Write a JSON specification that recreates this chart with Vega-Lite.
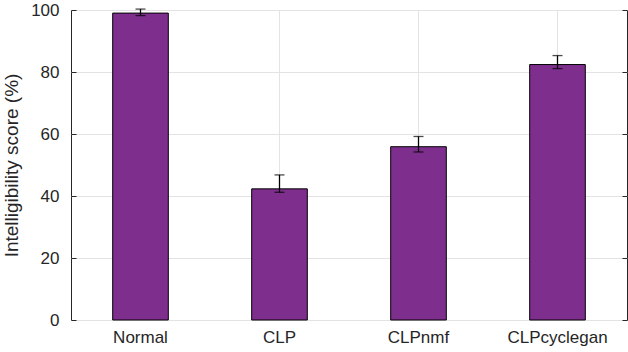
{
  "$schema": "https://vega.github.io/schema/vega-lite/v6.json",
  "width": 556,
  "height": 310,
  "autosize": "none",
  "padding": {"left": 71, "top": 10, "right": 1, "bottom": 32},
  "background": "white",
  "config": {
    "font": "Liberation Sans",
    "view": {"stroke": "#262626", "strokeWidth": 1},
    "axis": {
      "domainColor": "#262626",
      "tickColor": "#262626",
      "labelColor": "#262626",
      "titleColor": "#262626",
      "labelFont": "Liberation Sans",
      "titleFont": "Liberation Sans",
      "labelFontSize": 17,
      "titleFontSize": 19,
      "titleFontWeight": "normal",
      "gridColor": "#e3e3e3",
      "gridOpacity": 1
    }
  },
  "data": {
    "values": [
      {"cond": "Normal", "score": 99.0, "lo": 98.2, "hi": 100.3},
      {"cond": "CLP", "score": 42.3, "lo": 41.2, "hi": 46.8},
      {"cond": "CLPnmf", "score": 55.9, "lo": 54.2, "hi": 59.2},
      {"cond": "CLPcyclegan", "score": 82.4, "lo": 81.1, "hi": 85.3}
    ]
  },
  "encoding": {
    "x": {
      "field": "cond",
      "type": "nominal",
      "sort": null,
      "scale": {"paddingInner": 0.6, "paddingOuter": 0.3},
      "axis": {
        "title": null,
        "labelAngle": 0,
        "grid": true,
        "ticks": false,
        "domain": false,
        "labelPadding": 9
      }
    }
  },
  "layer": [
    {
      "mark": {"type": "bar", "fill": "#7E2F8E", "stroke": "#000000", "strokeWidth": 1},
      "encoding": {
        "y": {
          "field": "score",
          "type": "quantitative",
          "scale": {"domain": [0, 100], "nice": false},
          "axis": {
            "title": "Intelligibility score (%)",
            "values": [0, 20, 40, 60, 80, 100],
            "tickSize": -5,
            "labelPadding": 17,
            "titlePadding": 9,
            "grid": true,
            "domain": false
          }
        }
      }
    },
    {
      "mark": {"type": "rule", "color": "#000000", "strokeWidth": 1.3},
      "encoding": {
        "y": {
          "field": "lo",
          "type": "quantitative",
          "axis": {
            "orient": "right",
            "title": null,
            "labels": false,
            "grid": false,
            "domain": false,
            "values": [0, 20, 40, 60, 80, 100],
            "tickSize": -5
          }
        },
        "y2": {"field": "hi"}
      }
    },
    {
      "mark": {"type": "tick", "color": "#000000", "size": 10, "thickness": 1.3},
      "encoding": {"y": {"field": "lo", "type": "quantitative", "axis": null}}
    },
    {
      "mark": {"type": "tick", "color": "#000000", "size": 10, "thickness": 1.3},
      "encoding": {"y": {"field": "hi", "type": "quantitative", "axis": null}}
    }
  ],
  "resolve": {"axis": {"y": "independent"}}
}
